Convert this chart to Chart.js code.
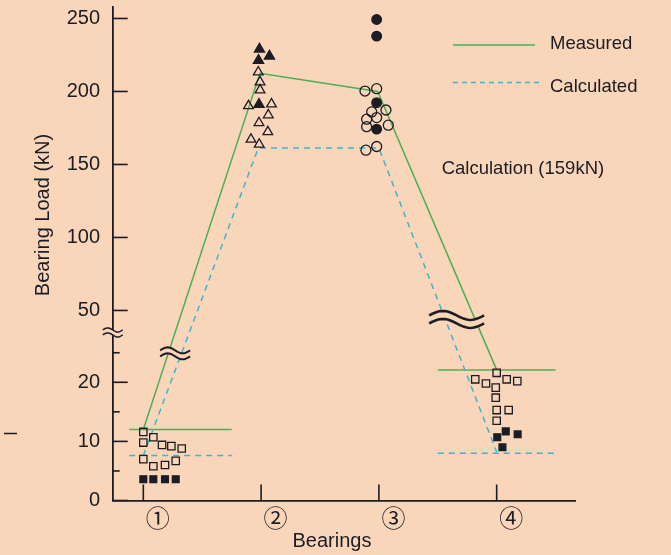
<!DOCTYPE html>
<html>
<head>
<meta charset="utf-8">
<script src="https://cdn.jsdelivr.net/npm/chart.js@4.4.1/dist/chart.umd.min.js"></script>
<style>
  html, body { margin: 0; padding: 0; background: #F9D5B9; overflow: hidden; }
  canvas { display: block; }
</style>
</head>
<body>
<canvas id="loadChart" width="671" height="555"></canvas>
<script>
// Bearing positions and tick labels
const bearingTicks = [1, 2, 3, 4];
const bearingLabels = ['①', '②', '③', '④'];
const yTickValues = [0, 5, 10, 15, 20, 25, 50, 100, 150, 200, 250];
const yTickLabels = ['0', '', '10', '', '20', '', '50', '100', '150', '200', '250'];

// Measured / calculated curves (kN)
const measuredX = [1, 1.99, 2.99, 4];
const measuredY = [12.0, 212.4, 200, 22.1];
const calculatedX = [1, 1.976, 3.0, 4];
const calculatedY = [7.6, 161.2, 161.2, 8.2];

// short level lines at bearings 1 and 4
const measuredLevelX = [[0.88, 1.75], [3.5, 4.5]];
const measuredLevelY = [12.0, 22.1];
const calculatedLevelX = [[0.88, 1.75], [3.5, 4.5]];
const calculatedLevelY = [7.6, 8.0];

// Bearing 1 (squares)
const b1OpenX = [1.0, 1.0, 1.085, 1.159, 1.238, 1.326, 1.0, 1.085, 1.184, 1.275];
const b1OpenY = [11.6, 9.8, 10.7, 9.4, 9.2, 8.8, 7.0, 5.8, 6.0, 6.7];
const b1FillX = [1.0, 1.085, 1.184, 1.275];
const b1FillY = [3.6, 3.6, 3.6, 3.6];

// Bearing 2 (triangles)
const b2OpenX = [1.976, 1.991, 1.991, 1.893, 2.088, 2.061, 1.982, 2.057, 1.914, 1.984];
const b2OpenY = [213.3, 206.5, 201.0, 190.1, 191.4, 183.9, 178.5, 172.3, 167.2, 163.8];
const b2FillX = [1.986, 2.071, 1.978, 1.982];
const b2FillY = [229.0, 224.2, 221.3, 191.1];

// Bearing 3 (circles)
const b3OpenX = [2.882, 2.981, 3.06, 2.939, 2.896, 2.981, 2.896, 3.08, 2.89, 2.981];
const b3OpenY = [200.3, 201.9, 187.3, 186.0, 181.0, 182.1, 175.9, 176.9, 159.8, 162.3];
const b3FillX = [2.981, 2.981, 2.981, 2.981];
const b3FillY = [249.3, 237.9, 192.3, 174.2];

// Bearing 4 (squares)
const b4OpenX = [4.0, 3.818, 3.909, 3.992, 4.085, 4.175, 3.992, 4.0, 4.102, 4.0];
const b4OpenY = [21.6, 20.5, 19.8, 19.1, 20.5, 20.2, 17.4, 15.3, 15.3, 13.5];
const b4FillX = [4.005, 4.077, 4.178, 4.049];
const b4FillY = [10.7, 11.7, 11.2, 9.0];

// axis break symbols (bearing position, kN); null = on the y axis
const breakX = [null, 1.27, 3.66];
const breakY = [37, 24.9, 44.7];

const BG = '#F9D5B9';
const INK = '#1c1c24';
const GREEN = '#4DAF55';
const CYAN = '#3DB6C9';
const FONT = '"Liberation Sans", Arial, sans-serif';

// broken y axis: 0-25 stretched, 50-250 compressed
function brk(v) {
  if (v <= 25) return v * 5.925;
  if (v <= 50) return 148.1 + (v - 25) * 1.696;
  return 190.5 + (v - 50) * 1.4635;
}

function pts(xs, ys) {
  return xs.map((x, i) => ({ x: x, y: brk(ys[i]) }));
}

function markers(xs, ys, style, filled, radius) {
  return {
    data: pts(xs, ys),
    pointStyle: style,
    pointRadius: radius,
    borderColor: INK,
    borderWidth: 1.3,
    backgroundColor: filled ? INK : 'rgba(0,0,0,0)'
  };
}

function curve(xs, ys, color, dash) {
  return {
    data: pts(xs, ys),
    showLine: true,
    pointRadius: 0,
    borderColor: color,
    borderWidth: 1.5,
    borderDash: dash,
    fill: false
  };
}

const datasets = [
  markers(b1OpenX, b1OpenY, 'rect', false, 5.2),
  markers(b1FillX, b1FillY, 'rect', true, 4.8),
  markers(b2OpenX, b2OpenY, 'triangle', false, 5.6),
  markers(b2FillX, b2FillY, 'triangle', true, 5.9),
  markers(b3OpenX, b3OpenY, 'circle', false, 5),
  markers(b3FillX, b3FillY, 'circle', true, 4.8),
  markers(b4OpenX, b4OpenY, 'rect', false, 5.2),
  markers(b4FillX, b4FillY, 'rect', true, 4.8),
  curve(measuredX, measuredY, GREEN, []),
  curve(calculatedX, calculatedY, CYAN, [6, 5])
];
measuredLevelX.forEach((xs, i) => {
  datasets.push(curve(xs, [measuredLevelY[i], measuredLevelY[i]], GREEN, []));
});
calculatedLevelX.forEach((xs, i) => {
  datasets.push(curve(xs, [calculatedLevelY[i], calculatedLevelY[i]], CYAN, [6, 5]));
});

function line(ctx, x1, y1, x2, y2) {
  ctx.beginPath();
  ctx.moveTo(x1, y1);
  ctx.lineTo(x2, y2);
  ctx.stroke();
}

function wave(ctx, cx, cy, w, amp, reverse) {
  for (let k = 0; k <= 24; k++) {
    const t = reverse ? 1 - k / 24 : k / 24;
    const x = cx - w / 2 + t * w;
    const y = cy - amp * Math.sin(2 * Math.PI * t);
    if (k === 0 && !reverse) ctx.moveTo(x, y); else ctx.lineTo(x, y);
  }
}

function drawBreak(ctx, cx, cy, w, amp, gap, lw) {
  ctx.beginPath();
  wave(ctx, cx, cy - gap / 2, w, amp, false);
  wave(ctx, cx, cy + gap / 2, w, amp, true);
  ctx.closePath();
  ctx.fillStyle = BG;
  ctx.fill();
  ctx.lineWidth = lw;
  ctx.strokeStyle = INK;
  ctx.beginPath();
  wave(ctx, cx, cy - gap / 2, w, amp, false);
  ctx.stroke();
  ctx.beginPath();
  wave(ctx, cx, cy + gap / 2, w, amp, false);
  ctx.stroke();
}

// tick marks drawn inward, break symbols, legend and titles
const decor = {
  id: 'decor',
  afterDraw(chart) {
    const ctx = chart.ctx;
    const xs = chart.scales.x;
    const ys = chart.scales.y;
    ctx.save();
    ctx.strokeStyle = INK;
    ctx.lineWidth = 1.6;
    yTickValues.forEach((v, i) => {
      const py = ys.getPixelForValue(brk(v));
      line(ctx, xs.left, py, xs.left + (yTickLabels[i] ? 15 : 7), py);
    });
    bearingTicks.forEach(v => {
      const px = xs.getPixelForValue(v);
      line(ctx, px, ys.bottom, px, ys.bottom - 16);
    });

    const sizes = [[20, 2, 5, 1.5], [30, 3, 6, 2], [55, 4.5, 8, 2.6]];
    breakX.forEach((bx, i) => {
      const cx = bx === null ? xs.left : xs.getPixelForValue(bx);
      const cy = ys.getPixelForValue(brk(breakY[i]));
      const s = sizes[i];
      drawBreak(ctx, cx, cy, s[0], s[1], s[2], s[3]);
    });

    // stray dash at left edge
    ctx.lineWidth = 1.5;
    line(ctx, 4, 433.5, 17, 433.5);

    // legend
    ctx.lineWidth = 1.5;
    ctx.strokeStyle = GREEN;
    line(ctx, 453, 45, 535, 45);
    ctx.strokeStyle = CYAN;
    ctx.setLineDash([5, 4]);
    line(ctx, 453, 82.5, 540, 82.5);
    ctx.setLineDash([]);

    ctx.fillStyle = INK;
    ctx.font = '18.5px ' + FONT;
    ctx.textAlign = 'left';
    ctx.textBaseline = 'alphabetic';
    ctx.fillText('Measured', 550, 49.3);
    ctx.fillText('Calculated', 550, 91.7);
    ctx.fillText('Calculation (159kN)', 441.7, 174.3);

    // axis titles
    ctx.font = '20px ' + FONT;
    ctx.textAlign = 'center';
    ctx.fillText('Bearings', 332, 547.3);
    ctx.translate(49.3, 215);
    ctx.rotate(-Math.PI / 2);
    ctx.fillText('Bearing Load (kN)', 0, 0);
    ctx.restore();
  }
};

new Chart(document.getElementById('loadChart'), {
  type: 'scatter',
  data: { datasets: datasets },
  options: {
    responsive: false,
    animation: false,
    events: [],
    layout: { padding: { left: 0, right: 96, top: 6, bottom: 0 } },
    plugins: { legend: { display: false }, tooltip: { enabled: false } },
    scales: {
      x: {
        type: 'linear',
        min: 0.74,
        max: 4.665,
        afterBuildTicks: s => { s.ticks = bearingTicks.map(v => ({ value: v })); },
        afterFit: s => { s.height = 54.5; s.paddingLeft = 0; s.paddingRight = 0; },
        grid: { display: false, drawTicks: false },
        border: { display: true, color: INK, width: 1.8 },
        ticks: {
          autoSkip: false,
          maxRotation: 0,
          padding: 2.5,
          labelOffset: 14.5,
          color: INK,
          font: { family: '"Noto Sans CJK JP", "DejaVu Sans", sans-serif', size: 24 },
          callback: (v, i) => bearingLabels[i]
        }
      },
      y: {
        type: 'linear',
        min: 0,
        max: 494.5,
        afterBuildTicks: s => { s.ticks = yTickValues.map(v => ({ value: brk(v) })); },
        afterFit: s => { s.width = 112.7; s.paddingTop = 0; s.paddingBottom = 0; },
        grid: { display: false, drawTicks: false },
        border: { display: true, color: INK, width: 1.8 },
        ticks: {
          autoSkip: false,
          padding: 12.7,
          color: INK,
          font: { family: FONT, size: 20 },
          callback: (v, i) => yTickLabels[i]
        }
      }
    }
  },
  plugins: [decor]
});
</script>
</body>
</html>
